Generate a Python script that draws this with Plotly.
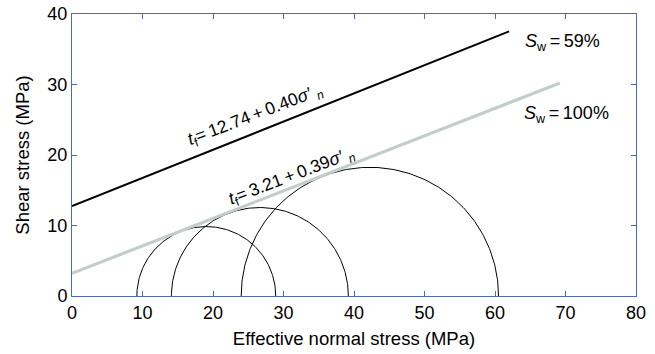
import numpy as np
import plotly.graph_objects as go

# Failure envelopes: intercept (MPa), friction coefficient, extent along sigma'_n
env_labels = ["S_w = 59%", "S_w = 100%"]
env_intercepts = [12.74, 3.21]
env_slopes = [0.40, 0.39]
env_xmax = [62.0, 69.2]
env_colors = ["#000000", "#c3cdc9"]
env_widths = [2, 3.2]

# Mohr circles: minor and major effective principal stresses (MPa)
sigma3 = [9.2, 14.1, 24.0]
sigma1 = [28.9, 39.2, 60.5]

AXIS_BLUE = "#5068b8"
FONT = "Liberation Sans, Arial, Helvetica, sans-serif"
THIN = "\u2009"

fig = go.Figure()

# Mohr semicircles
for s3, s1 in zip(sigma3, sigma1):
    c = (s1 + s3) / 2
    r = (s1 - s3) / 2
    th = np.linspace(0, np.pi, 200)
    fig.add_trace(go.Scatter(x=c + r * np.cos(th), y=r * np.sin(th), mode="lines",
                             line=dict(color="black", width=1), showlegend=False,
                             hoverinfo="skip"))

# Envelopes (gray one beneath the black one)
for i in [1, 0]:
    xs = np.array([0.0, env_xmax[i]])
    fig.add_trace(go.Scatter(x=xs, y=env_intercepts[i] + env_slopes[i] * xs, mode="lines",
                             line=dict(color=env_colors[i], width=env_widths[i]),
                             showlegend=False, name=env_labels[i]))

def eq_text(c, m):
    return (f"<i>t</i><sub>f</sub>={THIN}{c:.2f}{THIN}+{THIN}{m:.2f}"
            f"<i>σ′</i> <sub><i>n</i></sub>")

# Equation labels along the envelopes
fig.add_annotation(x=26.0, y=25.6, text=eq_text(env_intercepts[0], env_slopes[0]),
                   showarrow=False, textangle=-21, font=dict(size=17.5, color="black", family=FONT))
fig.add_annotation(x=31.2, y=17.0, text=eq_text(env_intercepts[1], env_slopes[1]),
                   showarrow=False, textangle=-21, font=dict(size=17.5, color="black", family=FONT))

# Saturation labels
fig.add_annotation(x=63.9, y=36.0, text=f"<i>S</i><sub>w</sub>{THIN}={THIN}59%", showarrow=False,
                   xanchor="left", font=dict(size=18, color="black", family=FONT))
fig.add_annotation(x=63.8, y=25.7, text=f"<i>S</i><sub>w</sub>{THIN}={THIN}100%", showarrow=False,
                   xanchor="left", font=dict(size=18, color="black", family=FONT))

axis_common = dict(showgrid=False, zeroline=False, showline=True, linecolor=AXIS_BLUE,
                   linewidth=1, mirror="allticks", ticks="inside", ticklen=5,
                   tickcolor=AXIS_BLUE, tickwidth=1, dtick=10, automargin=False,
                   tickfont=dict(size=18, color="black", family=FONT))

fig.update_layout(
    width=655, height=354,
    margin=dict(l=72, r=19, t=14, b=58),
    plot_bgcolor="white", paper_bgcolor="white",
    font=dict(family=FONT, color="black"),
    xaxis=dict(range=[0, 80], title=dict(text="Effective normal stress (MPa)",
                                         font=dict(size=18.5), standoff=10), **axis_common),
    yaxis=dict(range=[0, 40], title=dict(text="Shear stress (MPa)",
                                         font=dict(size=18.5), standoff=12), **axis_common),
)

fig.write_html("out.html")
